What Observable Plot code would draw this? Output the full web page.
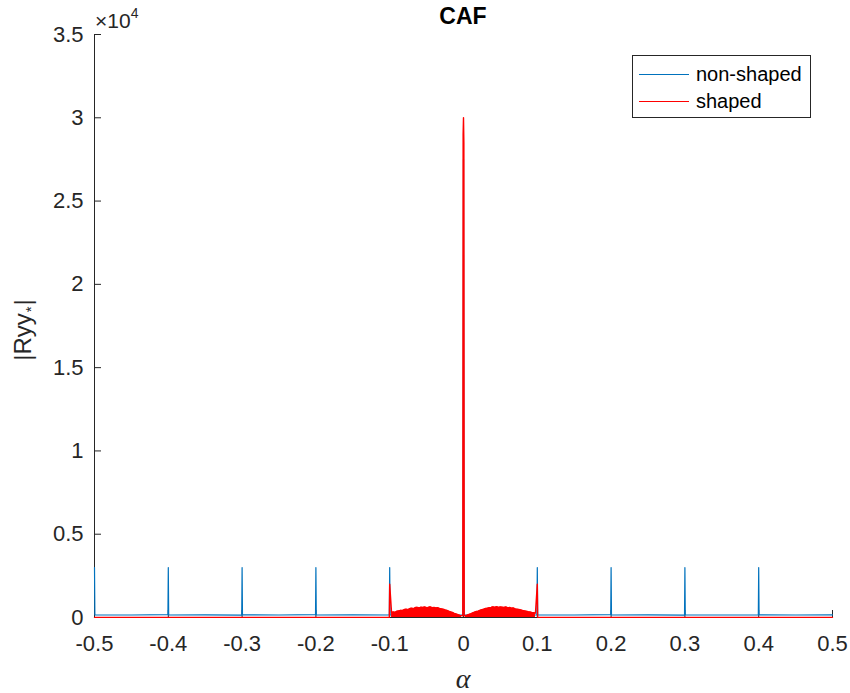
<!DOCTYPE html>
<html><head><meta charset="utf-8">
<script src="https://cdn.jsdelivr.net/npm/d3@7"></script>
<script src="https://cdn.jsdelivr.net/npm/@observablehq/plot@0.6"></script>
<style>
body{margin:0;background:#fff;}
#wrap{position:relative;width:850px;height:693px;font-family:"Liberation Sans",Arial,Helvetica,sans-serif;color:#262626;}
#wrap svg{position:absolute;left:0;top:0;}
.ov{position:absolute;white-space:nowrap;line-height:1;}
#title{left:463px;top:5px;transform:translateX(-50%);font-weight:bold;font-size:23px;color:#000;}
#expo{left:95px;top:10px;font-size:21px;}
#expo sup{font-size:14px;position:relative;top:-4px;vertical-align:top;}
#ylab{left:23px;top:330px;transform:translate(-50%,-50%) rotate(-90deg);font-size:24px;}
#ylab sub{font-size:15px;vertical-align:baseline;position:relative;top:5px;padding:0 1px;}
#xlab{left:463px;top:665px;transform:translateX(-50%);font-family:"Liberation Serif","DejaVu Serif",serif;font-style:italic;font-size:28px;}
#legend{left:632px;top:55px;width:177px;height:61px;border:1px solid #262626;background:#fff;}
.lrow{position:absolute;left:6px;height:22px;}
.lrow .sw{position:absolute;left:0;top:10px;width:50px;height:1px;}
.lrow .lt{position:absolute;left:57px;top:0px;font-size:20px;color:#000;line-height:1;}
</style></head><body><div id="wrap"></div>
<script>
// ---------- data ----------
const xTicks = [-0.5, -0.4, -0.3, -0.2, -0.1, 0, 0.1, 0.2, 0.3, 0.4, 0.5];
const xTickLabels = ["-0.5", "-0.4", "-0.3", "-0.2", "-0.1", "0", "0.1", "0.2", "0.3", "0.4", "0.5"];
const yTicks = [0, 5000, 10000, 15000, 20000, 25000, 30000, 35000];
const yTickLabels = ["0", "0.5", "1", "1.5", "2", "2.5", "3", "3.5"];

// non-shaped (blue)
const nonShapedAlpha = [-0.5, -0.4995, -0.45, -0.4005, -0.4, -0.3995, -0.35, -0.3005, -0.3, -0.2995,
  -0.25, -0.2005, -0.2, -0.1995, -0.15, -0.1005, -0.1, -0.0995, -0.05, -0.0005, 0, 0.0005,
  0.05, 0.0995, 0.1, 0.1005, 0.15, 0.1995, 0.2, 0.2005, 0.25, 0.2995, 0.3, 0.3005, 0.35,
  0.3995, 0.4, 0.4005, 0.45, 0.5];
const nonShapedVals = [3000, 160, 150, 170, 3000, 150, 160, 140, 3000, 160,
  150, 170, 3000, 150, 160, 150, 3000, 150, 150, 160, 27500, 160,
  150, 150, 3000, 160, 150, 170, 3000, 150, 160, 140, 3000, 160, 150,
  150, 3000, 160, 150, 160];

// shaped (red): baseline and spikes
const shapedAlpha = [-0.5, -0.3, -0.1005, -0.1, -0.001, -0.0005, 0, 0.0005, 0.001, 0.1, 0.1005, 0.3, 0.5];
const shapedVals = [10, 10, 10, 2000, 100, 29000, 30000, 28500, 100, 2000, 10, 10, 10];

// shaped (red): dense humps between -0.1 and 0.1 (upper envelope)
const humpAlpha = [
  -0.0975, -0.095, -0.0925, -0.09, -0.0875, -0.085, -0.0825, -0.08, -0.0775, -0.075,
  -0.0725, -0.07, -0.0675, -0.065, -0.0625, -0.06, -0.0575, -0.055, -0.0525, -0.05,
  -0.0475, -0.045, -0.0425, -0.04, -0.0375, -0.035, -0.0325, -0.03, -0.0275, -0.025,
  -0.0225, -0.02, -0.0175, -0.015, -0.0125, -0.01, -0.0075, -0.005, -0.0025,
  0.0025, 0.005, 0.0075, 0.01, 0.0125, 0.015, 0.0175, 0.02, 0.0225, 0.025,
  0.0275, 0.03, 0.0325, 0.035, 0.0375, 0.04, 0.0425, 0.045, 0.0475, 0.05,
  0.0525, 0.055, 0.0575, 0.06, 0.0625, 0.065, 0.0675, 0.07, 0.0725, 0.075,
  0.0775, 0.08, 0.0825, 0.085, 0.0875, 0.09, 0.0925, 0.095, 0.0975];
const humpVals = [
  300, 330, 310, 380, 400, 430, 420, 480, 500, 470,
  540, 560, 530, 600, 610, 570, 620, 600, 630, 590,
  610, 640, 590, 600, 570, 590, 540, 520, 500, 450,
  430, 380, 340, 300, 250, 210, 170, 130, 110,
  110, 140, 180, 220, 270, 320, 360, 380, 430, 470,
  500, 540, 560, 590, 600, 640, 610, 650, 600, 630,
  620, 600, 630, 580, 600, 560, 570, 520, 500, 480,
  460, 420, 400, 380, 350, 330, 300, 290, 260];

// ---------- tables built from the arrays ----------
const blue = nonShapedAlpha.map((a, i) => ({a, v: nonShapedVals[i]}));
const hump = humpAlpha.map((a, i) => ({a, v: humpVals[i], side: a < 0 ? "L" : "R"}));
const red = shapedAlpha.map((a, i) => ({a, v: shapedVals[i]}))
  .concat(hump.map(d => ({a: d.a, v: d.v})))
  .sort((p, q) => p.a - q.a);

const W = 850, H = 693, mL = 94, mR = 18, mT = 34, mB = 76;
const pw = W - mL - mR, ph = H - mT - mB, tk = 7;
const axisColor = "#262626";
const fontFam = '"Liberation Sans", Arial, Helvetica, sans-serif';

const svg = Plot.plot({
  width: W, height: H,
  marginLeft: mL, marginRight: mR, marginTop: mT, marginBottom: mB,
  x: {domain: [-0.5, 0.5], axis: null},
  y: {domain: [0, 35000], axis: null},
  style: {fontFamily: fontFam, fontSize: "22px", color: axisColor, background: "white"},
  marks: [
    Plot.ruleX([-0.5], {stroke: axisColor, strokeWidth: 1}),
    Plot.ruleY([0], {stroke: axisColor, strokeWidth: 1}),
    Plot.tickY(yTicks, {y: d => d, stroke: axisColor, insetRight: pw - tk}),
    Plot.tickX(xTicks, {x: d => d, stroke: axisColor, insetTop: ph - tk}),
    Plot.text(yTicks, {y: d => d, text: (d, i) => yTickLabels[i], frameAnchor: "left", textAnchor: "end", dx: -11, fill: axisColor, fontSize: 22}),
    Plot.text(xTicks, {x: d => d, text: (d, i) => xTickLabels[i], frameAnchor: "bottom", lineAnchor: "top", dy: 18, fill: axisColor, fontSize: 22}),
    Plot.line(blue, {x: "a", y: "v", stroke: "#0072bd", strokeWidth: 1.2}),
    Plot.areaY(hump, {x: "a", y: "v", z: "side", fill: "#ff0000"}),
    Plot.line(red, {x: "a", y: "v", stroke: "#ff0000", strokeWidth: 1.4})
  ]
});

const wrap = document.getElementById("wrap");
wrap.appendChild(svg);
wrap.insertAdjacentHTML("beforeend", `
  <div class="ov" id="title">CAF</div>
  <div class="ov" id="expo">×10<sup>4</sup></div>
  <div class="ov" id="ylab">|Ryy<sub>*</sub>|</div>
  <div class="ov" id="xlab">α</div>
  <div class="ov" id="legend">
    <div class="lrow" style="top:8px"><div class="sw" style="background:#0072bd"></div><div class="lt">non-shaped</div></div>
    <div class="lrow" style="top:35px"><div class="sw" style="background:#ff0000"></div><div class="lt">shaped</div></div>
  </div>`);
</script>
</body></html>
